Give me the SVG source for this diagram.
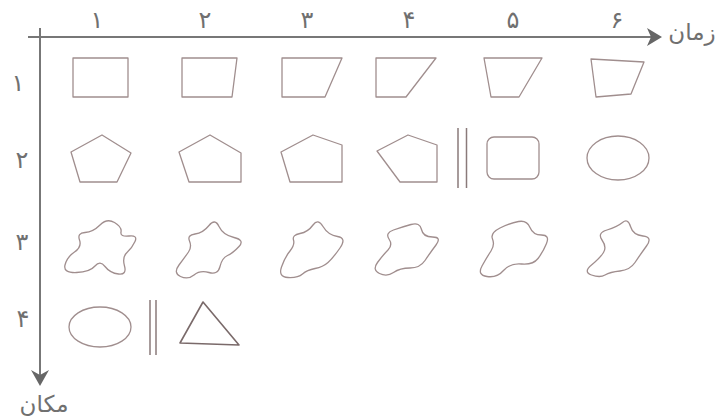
<svg xmlns="http://www.w3.org/2000/svg" width="716" height="420" viewBox="0 0 716 420">
<style>
.s{fill:none;stroke:#a08e8e;stroke-width:1.3;stroke-linejoin:round}
.bar{stroke:#8a7a7a;stroke-width:1.5}
.t{font-family:"DejaVu Sans",sans-serif;fill:#707070;font-size:24px;text-anchor:middle}
.w{font-size:23px}
.ax{stroke:#777;stroke-width:2;fill:none}
.ah{fill:#666}
</style>
<rect width="716" height="420" fill="#fff"/>
<g id="axes">
<line class="ax" x1="28" y1="37" x2="652" y2="37"/>
<polygon class="ah" points="662,37 647,28 651,37 647,46"/>
<line class="ax" x1="40" y1="28" x2="40" y2="376"/>
<polygon class="ah" points="40,386 31,370 40,375 49,370"/>
</g>
<g id="labels">
<text class="t" x="97" y="28">۱</text>
<text class="t" x="205" y="28">۲</text>
<text class="t" x="307" y="28">۳</text>
<text class="t" x="409" y="28">۴</text>
<text class="t" x="513" y="28">۵</text>
<text class="t" x="617" y="28">۶</text>
<text class="t" x="18" y="91">۱</text>
<text class="t" x="22" y="168">۲</text>
<text class="t" x="22" y="250">۳</text>
<text class="t" x="23" y="327">۴</text>
<text class="t w" x="692" y="40">زمان</text>
<text class="t w" x="44" y="412">مکان</text>
</g>
<g id="row1">
<polygon id="r1c1" class="s" points="73,58 128,58 128,97 73,97"/>
<polygon id="r1c2" class="s" points="182,58 237,58 232,97 182,97"/>
<polygon id="r1c3" class="s" points="282,58 342,58 325,97 282,97"/>
<polygon id="r1c4" class="s" points="376,58 436,58 406,97 376,97"/>
<polygon id="r1c5" class="s" points="484,58 542,58 519,97 491,97"/>
<polygon id="r1c6" class="s" points="591,59 644,62 631,94 596,97"/>
</g>
<g id="row2">
<polygon id="r2c1" class="s" points="102,135 131,153 117,182 80,182 71,152"/>
<polygon id="r2c2" class="s" points="210,135 241,153 241,182 189,182 179,152"/>
<polygon id="r2c3" class="s" points="313,135 342,145 342,182 290,182 281,152"/>
<polygon id="r2c4" class="s" points="408,135 437,145 437,182 400,182 377,151"/>
<g id="r2sep"><line class="bar" x1="458" y1="128" x2="458" y2="188"/><line class="bar" x1="466.5" y1="128" x2="466.5" y2="188"/></g>
<rect id="r2c5" class="s" x="487" y="137" width="52" height="42" rx="7"/>
<ellipse id="r2c6" class="s" cx="618" cy="158" rx="31" ry="22"/>
</g>
<g id="row3">
<path id="r3c1" class="s" d="M 85,232.5 Q 93,232 100,225 Q 107,218 114.5,222.5 Q 122,227 121,232 Q 120,237 129,236 Q 138,235 135,241.5 Q 132,248 127,252.5 Q 122,257 124.5,266 Q 127,275 118.5,274 Q 110,273 105,266.5 Q 100,260 95,266 Q 90,272 76.5,272.5 Q 63,273 65,265 Q 67,257 74.5,252 Q 82,247 79.5,240 Q 77,233 85,232.5 Z"/>
<path id="r3c2" class="s" d="M 195,234 Q 203,233 209,225.5 Q 215,218 219,226.5 Q 223,235 234,237.5 Q 245,240 239,246.5 Q 233,253 227.5,255.5 Q 222,258 220,266.5 Q 218,275 209,272.5 Q 200,270 194,275 Q 188,280 180.5,276.5 Q 173,273 179,265 Q 185,257 188.5,252 Q 192,247 189.5,241 Q 187,235 195,234 Z"/>
<path id="r3c3" class="s" d="M 300,233.5 Q 308,232 313,225 Q 318,218 323,226.5 Q 328,235 337.5,236.5 Q 347,238 340,248 Q 333,258 328,262.5 Q 323,267 315,268.5 Q 307,270 302.5,274 Q 298,278 288,277.5 Q 278,277 281.5,267 Q 285,257 290,251 Q 295,245 293.5,240 Q 292,235 300,233.5 Z"/>
<path id="r3c4" class="s" d="M 393.5,230 Q 402,227 411,224.5 Q 420,222 421.5,229.5 Q 423,237 432.5,237 Q 442,237 436,245 Q 430,253 425,260.5 Q 420,268 410,268 Q 400,268 393.5,272.5 Q 387,277 379.5,273.5 Q 372,270 377.5,262.5 Q 383,255 388,250 Q 393,245 389,239 Q 385,233 393.5,230 Z"/>
<path id="r3c5" class="s" d="M 500,228 Q 510,223 518.5,221.5 Q 527,220 530,227.5 Q 533,235 541.5,235 Q 550,235 546.5,243.5 Q 543,252 538,258.5 Q 533,265 521.5,264 Q 510,263 503.5,270.5 Q 497,278 487,276.5 Q 477,275 482,266 Q 487,257 491,251 Q 495,245 492.5,239 Q 490,233 500,228 Z"/>
<path id="r3c6" class="s" d="M 607,230 Q 617,227 622.5,222.5 Q 628,218 630.5,226.5 Q 633,235 643,236 Q 653,237 646.5,246 Q 640,255 635,262.5 Q 630,270 620,271 Q 610,272 605,275 Q 600,278 591.5,275 Q 583,272 591.5,265 Q 600,258 603.5,252.5 Q 607,247 602,240 Q 597,233 607,230 Z"/>
</g>
<g id="row4">
<ellipse id="r4c1" class="s" cx="100" cy="327" rx="31" ry="20"/>
<g id="r4sep"><line class="bar" x1="150" y1="300" x2="150" y2="355"/><line class="bar" x1="156" y1="300" x2="156" y2="355"/></g>
<polygon id="r4c2" class="s" style="stroke:#7a6a6a;stroke-width:1.6" points="203,302 239,345 180,343"/>
</g>
</svg>
